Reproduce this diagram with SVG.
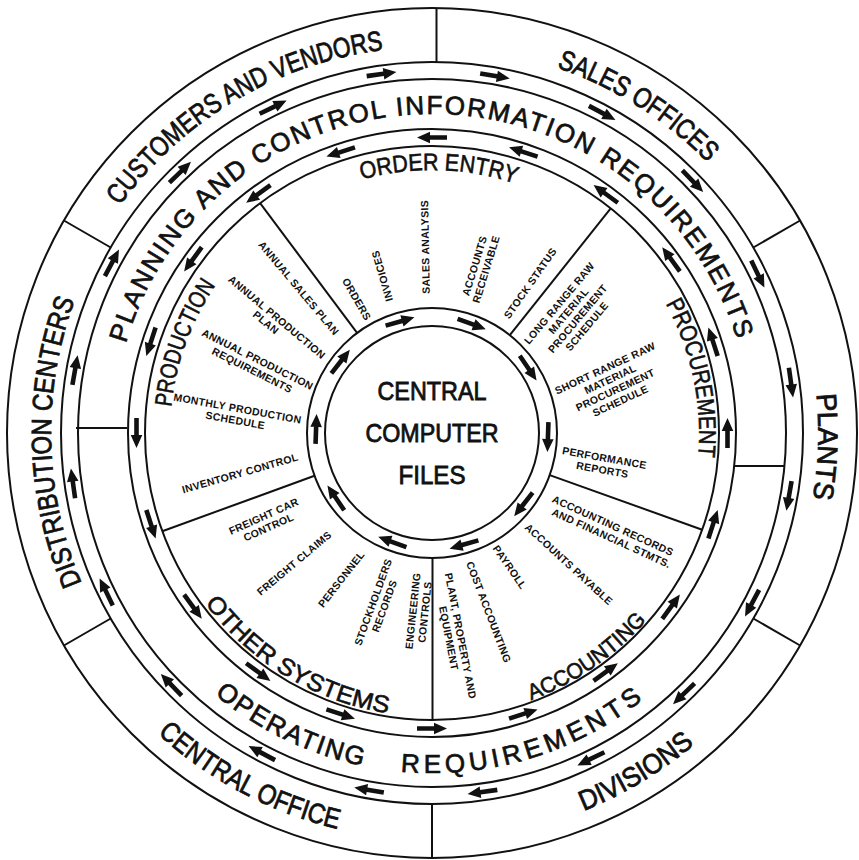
<svg xmlns="http://www.w3.org/2000/svg" width="859" height="860" viewBox="0 0 859 860">
<style>
.r{fill:none;stroke:#111;stroke-width:2}
.d{stroke:#111;stroke-width:2;fill:none}
.a{fill:#111}
text{font-family:"Liberation Sans",Arial,sans-serif;fill:#111}
.b{font-size:28px;text-anchor:middle;stroke:#111;stroke-width:0.8px}
.m{font-size:26px;text-anchor:middle;stroke:#111;stroke-width:0.7px}
.t{font-size:24px;text-anchor:middle;stroke:#111;stroke-width:0.6px}
.c{font-size:25px;text-anchor:middle;stroke:#111;stroke-width:0.8px}
.it{font-size:10.5px;font-weight:bold;letter-spacing:0.3px;text-anchor:middle}
.st{text-anchor:start}
</style>
<defs>
<path id="ar" class="a" d="M-15,-2.3H2V-5.8L15,0L2,5.8V2.3H-15Z"/>
<path id="pCust" d="M70.7,568.8 A386,386 0 0 1 725.2,181.8"/>
<path id="pSales" d="M146,173.7 A386,386 0 0 1 789.4,578.8"/>
<path id="pPlants" d="M512.3,55.4 A386,386 0 0 1 485.7,815.3"/>
<path id="pDiv" d="M124.8,700 A407,407 0 0 0 812,287.1"/>
<path id="pCO" d="M44.7,307.9 A407,407 0 0 0 753.2,683"/>
<path id="pDist" d="M375,809.7 A381,381 0 0 1 356.7,59.5"/>
<path id="pPlan" d="M117.5,379.8 A319,319 0 0 1 745.8,375.4"/>
<path id="pOper1" d="M104.9,340.4 A340,340 0 0 0 707.8,631.9"/>
<path id="pOper2" d="M127.7,584.7 A340,340 0 0 0 769.8,394.5"/>
<path id="pOrd" d="M174.3,380.6 A263,263 0 0 1 692.1,394.1"/>
<path id="pProc" d="M423.1,166.1 A267,267 0 0 1 531.6,680.7"/>
<path id="pAcc" d="M229.1,633.1 A285,285 0 0 0 691.1,314.4"/>
<path id="pOth" d="M166.9,331.2 A284,284 0 0 0 646.3,619.3"/>
<path id="pProd" d="M301,659.9 A262,262 0 0 1 477.5,175"/>
</defs>
<rect width="859" height="860" fill="#fff"/>

<g id="rings">
<circle class="r" cx="432" cy="433" r="425"/>
<circle class="r" cx="432" cy="433" r="371"/>
<circle class="r" cx="432" cy="433" r="354"/>
<circle class="r" cx="432" cy="433" r="304"/>
<circle class="r" cx="432" cy="433" r="287"/>
<circle class="r" cx="432" cy="433" r="125"/>
<circle class="r" cx="432" cy="433" r="107"/>
</g>

<g id="dividers">
<path class="d" d="M436.5,8V62"/>
<path class="d" d="M753.3,247.5L800.1,220.5"/>
<path class="d" d="M753.3,618.5L800.1,645.5"/>
<path class="d" d="M432,804V858"/>
<path class="d" d="M110.7,618.5L63.9,645.5"/>
<path class="d" d="M110.7,247.5L63.9,220.5"/>
<path class="d" d="M76,428H127"/>
<path class="d" d="M734.2,466H784.5"/>
<path class="d" d="M357.1,332.9L260.1,203.2"/>
<path class="d" d="M509.8,335.2L610.7,208.4"/>
<path class="d" d="M549.7,475.1L702.2,529.7"/>
<path class="d" d="M432.5,558V720"/>
<path class="d" d="M314.5,475.8L162.3,531.2"/>
</g>

<g id="connectors">
<g id="outer-flow">
<use href="#ar" transform="rotate(10 432 433) translate(794.5 433) rotate(90)"/>
<use href="#ar" transform="rotate(28 432 433) translate(794.5 433) rotate(90)"/>
<use href="#ar" transform="rotate(46 432 433) translate(794.5 433) rotate(90)"/>
<use href="#ar" transform="rotate(64 432 433) translate(794.5 433) rotate(90)"/>
<use href="#ar" transform="rotate(82 432 433) translate(794.5 433) rotate(90)"/>
<use href="#ar" transform="rotate(100 432 433) translate(794.5 433) rotate(90)"/>
<use href="#ar" transform="rotate(118 432 433) translate(794.5 433) rotate(90)"/>
<use href="#ar" transform="rotate(136 432 433) translate(794.5 433) rotate(90)"/>
<use href="#ar" transform="rotate(154 432 433) translate(794.5 433) rotate(90)"/>
<use href="#ar" transform="rotate(172 432 433) translate(794.5 433) rotate(90)"/>
<use href="#ar" transform="rotate(190 432 433) translate(794.5 433) rotate(90)"/>
<use href="#ar" transform="rotate(208 432 433) translate(794.5 433) rotate(90)"/>
<use href="#ar" transform="rotate(226 432 433) translate(794.5 433) rotate(90)"/>
<use href="#ar" transform="rotate(244 432 433) translate(794.5 433) rotate(90)"/>
<use href="#ar" transform="rotate(262 432 433) translate(794.5 433) rotate(90)"/>
<use href="#ar" transform="rotate(280 432 433) translate(794.5 433) rotate(90)"/>
<use href="#ar" transform="rotate(298 432 433) translate(794.5 433) rotate(90)"/>
<use href="#ar" transform="rotate(316 432 433) translate(794.5 433) rotate(90)"/>
<use href="#ar" transform="rotate(334 432 433) translate(794.5 433) rotate(90)"/>
<use href="#ar" transform="rotate(352 432 433) translate(794.5 433) rotate(90)"/>
</g>
<g id="inner-flow">
<use href="#ar" transform="rotate(0 432 433) translate(727.5 433) rotate(-90)"/>
<use href="#ar" transform="rotate(18 432 433) translate(727.5 433) rotate(-90)"/>
<use href="#ar" transform="rotate(36 432 433) translate(727.5 433) rotate(-90)"/>
<use href="#ar" transform="rotate(54 432 433) translate(727.5 433) rotate(-90)"/>
<use href="#ar" transform="rotate(72 432 433) translate(727.5 433) rotate(-90)"/>
<use href="#ar" transform="rotate(90 432 433) translate(727.5 433) rotate(-90)"/>
<use href="#ar" transform="rotate(108 432 433) translate(727.5 433) rotate(-90)"/>
<use href="#ar" transform="rotate(126 432 433) translate(727.5 433) rotate(-90)"/>
<use href="#ar" transform="rotate(144 432 433) translate(727.5 433) rotate(-90)"/>
<use href="#ar" transform="rotate(162 432 433) translate(727.5 433) rotate(-90)"/>
<use href="#ar" transform="rotate(180 432 433) translate(727.5 433) rotate(-90)"/>
<use href="#ar" transform="rotate(198 432 433) translate(727.5 433) rotate(-90)"/>
<use href="#ar" transform="rotate(216 432 433) translate(727.5 433) rotate(-90)"/>
<use href="#ar" transform="rotate(234 432 433) translate(727.5 433) rotate(-90)"/>
<use href="#ar" transform="rotate(252 432 433) translate(727.5 433) rotate(-90)"/>
<use href="#ar" transform="rotate(270 432 433) translate(727.5 433) rotate(-90)"/>
<use href="#ar" transform="rotate(288 432 433) translate(727.5 433) rotate(-90)"/>
<use href="#ar" transform="rotate(306 432 433) translate(727.5 433) rotate(-90)"/>
<use href="#ar" transform="rotate(324 432 433) translate(727.5 433) rotate(-90)"/>
<use href="#ar" transform="rotate(342 432 433) translate(727.5 433) rotate(-90)"/>
</g>
<g id="central-flow">
<use href="#ar" transform="rotate(2 432 433) translate(548 433) rotate(90)"/>
<use href="#ar" transform="rotate(38 432 433) translate(548 433) rotate(90)"/>
<use href="#ar" transform="rotate(74 432 433) translate(548 433) rotate(90)"/>
<use href="#ar" transform="rotate(110 432 433) translate(548 433) rotate(90)"/>
<use href="#ar" transform="rotate(146 432 433) translate(548 433) rotate(90)"/>
<use href="#ar" transform="rotate(182 432 433) translate(548 433) rotate(90)"/>
<use href="#ar" transform="rotate(218 432 433) translate(548 433) rotate(90)"/>
<use href="#ar" transform="rotate(254 432 433) translate(548 433) rotate(90)"/>
<use href="#ar" transform="rotate(290 432 433) translate(548 433) rotate(90)"/>
<use href="#ar" transform="rotate(326 432 433) translate(548 433) rotate(90)"/>
</g>
</g>

<g id="customers-vendors"><text class="b"><textPath href="#pCust" startOffset="50%" textLength="315" lengthAdjust="spacingAndGlyphs">CUSTOMERS AND VENDORS</textPath></text></g>
<g id="sales-offices"><text class="b"><textPath href="#pSales" startOffset="50%" textLength="180" lengthAdjust="spacingAndGlyphs">SALES OFFICES</textPath></text></g>
<g id="plants"><text class="b"><textPath href="#pPlants" startOffset="50%" textLength="105" lengthAdjust="spacingAndGlyphs">PLANTS</textPath></text></g>
<g id="divisions"><text class="b"><textPath href="#pDiv" startOffset="50%" textLength="130" lengthAdjust="spacingAndGlyphs">DIVISIONS</textPath></text></g>
<g id="central-office"><text class="b"><textPath href="#pCO" startOffset="50%" textLength="206" lengthAdjust="spacingAndGlyphs">CENTRAL OFFICE</textPath></text></g>
<g id="distribution-centers"><text class="b"><textPath href="#pDist" startOffset="50%" textLength="290" lengthAdjust="spacingAndGlyphs">DISTRIBUTION CENTERS</textPath></text></g>

<g id="planning-control"><text class="m"><textPath href="#pPlan" startOffset="50%" textLength="816" lengthAdjust="spacing">PLANNING AND CONTROL INFORMATION REQUIREMENTS</textPath></text></g>
<g id="operating">
<text class="m"><textPath href="#pOper1" startOffset="50%" textLength="166" lengthAdjust="spacing">OPERATING</textPath></text>
<text class="m"><textPath href="#pOper2" startOffset="50%" textLength="259" lengthAdjust="spacing">REQUIREMENTS</textPath></text>
</g>

<g id="central-files">
<text class="c" x="432" y="400" textLength="109" lengthAdjust="spacingAndGlyphs">CENTRAL</text>
<text class="c" x="432" y="442" textLength="133" lengthAdjust="spacingAndGlyphs">COMPUTER</text>
<text class="c" x="432" y="484" textLength="67" lengthAdjust="spacingAndGlyphs">FILES</text>
</g>

<g id="order-entry">
<text class="t"><textPath href="#pOrd" startOffset="50%" textLength="156" lengthAdjust="spacingAndGlyphs">ORDER ENTRY</textPath></text>
<text class="it" transform="translate(357,299) rotate(60)" y="4">ORDERS</text>
<text class="it" transform="translate(382,276) rotate(-106)" y="4">INVOICES</text>
<text class="it" transform="translate(425,247) rotate(-91)" y="4">SALES ANALYSIS</text>
<text class="it" transform="translate(480,267.5) rotate(-73)"><tspan x="0" y="-2">ACCOUNTS</tspan><tspan x="0" y="10">RECEIVABLE</tspan></text>
<text class="it" transform="translate(530,283) rotate(-55)" y="4">STOCK STATUS</text>
</g>

<g id="procurement">
<text class="t"><textPath href="#pProc" startOffset="50%" textLength="159" lengthAdjust="spacingAndGlyphs">PROCUREMENT</textPath></text>
<text class="it" transform="translate(572.8,314.6) rotate(-50)"><tspan x="0" y="-14">LONG RANGE RAW</tspan><tspan x="0" y="-2">MATERIAL</tspan><tspan x="0" y="10">PROCUREMENT</tspan><tspan x="0" y="22">SCHEDULE</tspan></text>
<text class="it" transform="translate(612.6,384.3) rotate(-25)"><tspan x="0" y="-14">SHORT RANGE RAW</tspan><tspan x="0" y="-2">MATERIAL</tspan><tspan x="0" y="10">PROCUREMENT</tspan><tspan x="0" y="22">SCHEDULE</tspan></text>
<text class="it" transform="translate(603.5,463.5) rotate(10)"><tspan x="0" y="-2">PERFORMANCE</tspan><tspan x="0" y="10">REPORTS</tspan></text>
</g>

<g id="accounting">
<text class="t" style="font-size:22px"><textPath href="#pAcc" startOffset="50%" textLength="142" lengthAdjust="spacingAndGlyphs">ACCOUNTING</textPath></text>
<text class="it st" transform="translate(553,498) rotate(24.5)"><tspan x="0" y="4">ACCOUNTING RECORDS</tspan><tspan x="5" y="16">AND FINANCIAL STMTS.</tspan></text>
<text class="it" transform="translate(569,564) rotate(42.5)" y="4">ACCOUNTS PAYABLE</text>
<text class="it" transform="translate(510,567) rotate(55)" y="4">PAYROLL</text>
<text class="it" transform="translate(489,612) rotate(69)" y="4">COST ACCOUNTING</text>
<text class="it" transform="translate(455,637) rotate(79)"><tspan x="0" y="-2">PLANT, PROPERTY AND</tspan><tspan x="0" y="10">EQUIPMENT</tspan></text>
</g>

<g id="other-systems">
<text class="t"><textPath href="#pOth" startOffset="50%" textLength="219" lengthAdjust="spacingAndGlyphs">OTHER SYSTEMS</textPath></text>
<text class="it" transform="translate(418.5,611.5) rotate(-84)"><tspan x="0" y="-2">ENGINEERING</tspan><tspan x="0" y="10">CONTROLS</tspan></text>
<text class="it" transform="translate(378.5,604) rotate(-70)"><tspan x="0" y="-2">STOCKHOLDERS</tspan><tspan x="0" y="10">RECORDS</tspan></text>
<text class="it" transform="translate(341,579) rotate(-52)" y="4">PERSONNEL</text>
<text class="it" transform="translate(294,563) rotate(-40)" y="4">FREIGHT CLAIMS</text>
<text class="it" transform="translate(266,521.5) rotate(-24)"><tspan x="0" y="-2">FREIGHT CAR</tspan><tspan x="0" y="10">CONTROL</tspan></text>
</g>

<g id="production">
<text class="t"><textPath href="#pProd" startOffset="50%" textLength="131" lengthAdjust="spacingAndGlyphs">PRODUCTION</textPath></text>
<text class="it" transform="translate(299,288) rotate(50)" y="4">ANNUAL SALES PLAN</text>
<text class="it" transform="translate(277,317) rotate(40)"><tspan x="0" y="4">ANNUAL PRODUCTION</tspan><tspan x="-5" y="15">PLAN</tspan></text>
<text class="it" transform="translate(255,364.5) rotate(26.6)"><tspan x="0" y="-2">ANNUAL PRODUCTION</tspan><tspan x="0" y="10">REQUIREMENTS</tspan></text>
<text class="it" transform="translate(236.5,414) rotate(10.3)"><tspan x="0" y="-2">MONTHLY PRODUCTION</tspan><tspan x="0" y="10">SCHEDULE</tspan></text>
<text class="it" transform="translate(240,473) rotate(-16)" y="4">INVENTORY CONTROL</text>
</g>
</svg>
